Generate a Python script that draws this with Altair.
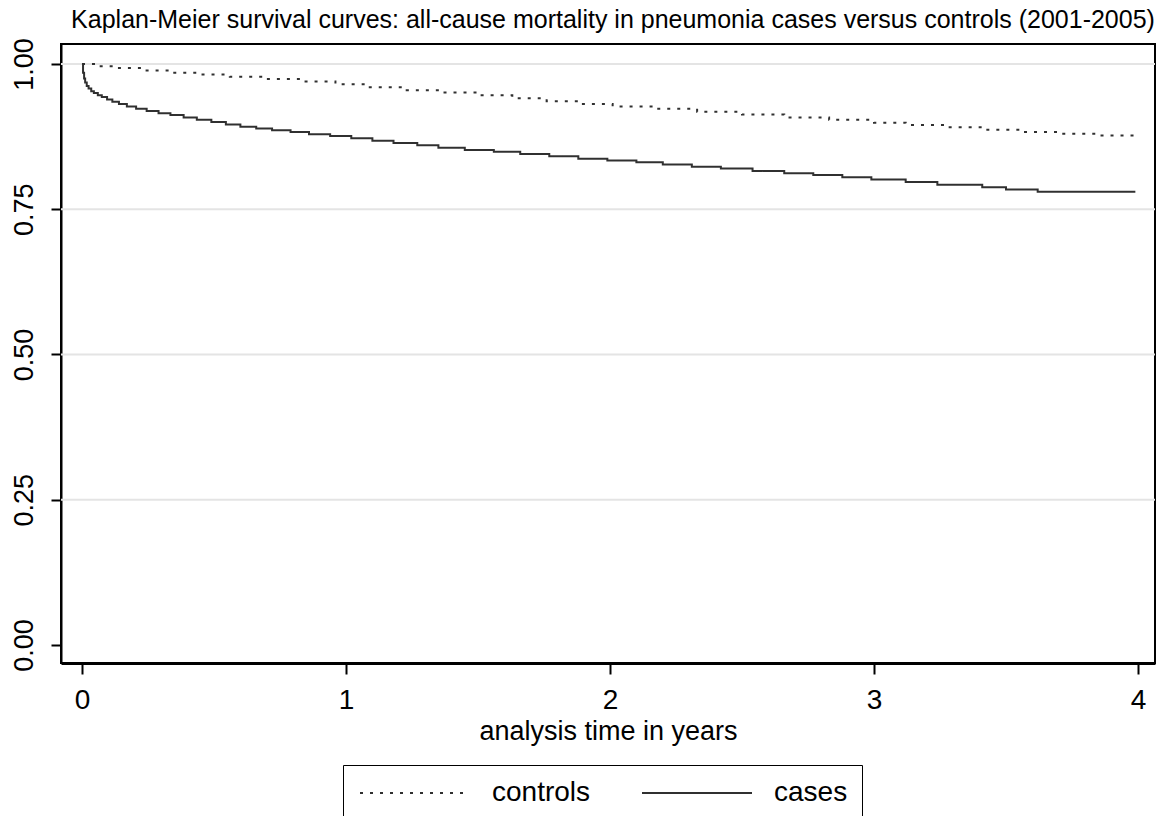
import altair as alt
import pandas as pd

# Kaplan-Meier estimates (time in years, survival probability)
cases_t = [0.000, 0.004, 0.008, 0.012, 0.018, 0.025, 0.035, 0.045, 0.060, 0.075,
           0.095, 0.115, 0.140, 0.170, 0.205, 0.245, 0.290, 0.335, 0.385, 0.435,
           0.490, 0.545, 0.600, 0.660, 0.720, 0.790, 0.860, 0.940, 1.020, 1.100,
           1.180, 1.270, 1.350, 1.450, 1.560, 1.660, 1.770, 1.880, 1.990, 2.100,
           2.200, 2.310, 2.420, 2.540, 2.660, 2.770, 2.880, 2.990, 3.120, 3.240,
           3.410, 3.500, 3.620, 3.990]
cases_s = [1.000, 0.985, 0.975, 0.968, 0.962, 0.958, 0.953, 0.950, 0.946, 0.943,
           0.939, 0.935, 0.931, 0.927, 0.923, 0.919, 0.915, 0.912, 0.908, 0.904,
           0.900, 0.896, 0.892, 0.889, 0.886, 0.883, 0.879, 0.876, 0.872, 0.868,
           0.864, 0.860, 0.856, 0.852, 0.849, 0.845, 0.841, 0.837, 0.834, 0.831,
           0.827, 0.823, 0.820, 0.816, 0.812, 0.809, 0.805, 0.801, 0.797, 0.792,
           0.788, 0.784, 0.780, 0.780]

controls_t = [0.000, 0.060, 0.140, 0.230, 0.330, 0.450, 0.560, 0.690, 0.830, 0.960,
              1.090, 1.230, 1.360, 1.500, 1.630, 1.760, 1.890, 2.010, 2.170, 2.330,
              2.500, 2.660, 2.830, 3.000, 3.120, 3.270, 3.420, 3.560, 3.700, 3.850,
              3.990]
controls_s = [1.000, 0.996, 0.993, 0.989, 0.985, 0.982, 0.978, 0.974, 0.970, 0.965,
              0.960, 0.955, 0.951, 0.946, 0.941, 0.936, 0.931, 0.927, 0.923, 0.918,
              0.913, 0.908, 0.904, 0.899, 0.895, 0.891, 0.887, 0.883, 0.880, 0.877,
              0.875]

groups = ["controls", "cases"]
x_ticks = [0, 1, 2, 3, 4]
y_ticks = [0.0, 0.25, 0.5, 0.75, 1.0]
grid_levels = [0.25, 0.5, 0.75, 1.0]

title_text = ("Kaplan-Meier survival curves: all-cause mortality in pneumonia "
              "cases versus controls (2001-2005)")

FONT = "Liberation Sans"

curves = pd.concat([
    pd.DataFrame({"t": controls_t, "s": controls_s, "group": "controls"}),
    pd.DataFrame({"t": cases_t, "s": cases_s, "group": "cases"}),
], ignore_index=True)
grid_df = pd.DataFrame({"s": grid_levels})

x_scale = alt.Scale(domain=[-0.0795, 4.0644], nice=False, zero=False)
y_scale = alt.Scale(domain=[-0.031, 1.0344], nice=False, zero=False)

y_axis = alt.Axis(values=y_ticks, format=".2f", labelAngle=270,
                  labelAlign="center", labelBaseline="alphabetic",
                  labelPadding=19, labelFontSize=27, labelFlush=False,
                  labelOverlap=False, tickSize=10, tickWidth=2,
                  domainWidth=2, grid=False)

# light horizontal reference lines at the upper y ticks
grid = alt.Chart(grid_df).mark_rule(color="#e4e4e4", strokeWidth=2).encode(
    y=alt.Y("s:Q", scale=y_scale, title=None, axis=y_axis)
)

# legend key: a wide horizontal stroke whose left end sits at the symbol's left edge
key_path = "M-1,0L9,0"

lines = alt.Chart(curves).mark_line(
    interpolate="step-after", strokeWidth=2, color="#303030"
).encode(
    x=alt.X("t:Q", scale=x_scale,
            axis=alt.Axis(values=x_ticks, format="d", title="analysis time in years",
                          labelFontSize=28, labelBaseline="alphabetic", labelPadding=34,
                          labelFlush=False, labelOverlap=False,
                          tickSize=11, tickWidth=2, domainWidth=3,
                          titleFontSize=27, titleBaseline="alphabetic", titleY=76,
                          grid=False)),
    y=alt.Y("s:Q", scale=y_scale, title=None, axis=y_axis),
    strokeDash=alt.StrokeDash(
        "group:N", title=None,
        scale=alt.Scale(domain=groups, range=[[3, 7], [1, 0]]),
        legend=alt.Legend(orient="none", legendX=282, legendY=721,
                          direction="horizontal", strokeColor="black", padding=14,
                          symbolType=key_path, symbolSize=484, symbolStrokeWidth=2,
                          symbolStrokeColor="#303030", labelFontSize=28,
                          labelOffset=107, columnPadding=47, labelColor="black",
                          labelFont=FONT)),
)

chart = (grid + lines).properties(
    width=1094,
    height=619,
    autosize=alt.AutoSizeParams(type="none"),
    padding={"left": 61, "top": 44, "right": 6, "bottom": 153},
    title=alt.Title(title_text, fontSize=25, font=FONT, fontWeight="normal",
                    color="black", anchor="middle", frame="group",
                    baseline="alphabetic", offset=12, dy=27, dx=5),
    background="white",
).configure_view(
    stroke="black", strokeWidth=2
).configure_axis(
    labelFont=FONT, titleFont=FONT, labelColor="black", titleColor="black",
    tickColor="black", domainColor="black", titleFontWeight="normal"
)

chart.save("out.html", embed_options={"renderer": "svg", "actions": False})
